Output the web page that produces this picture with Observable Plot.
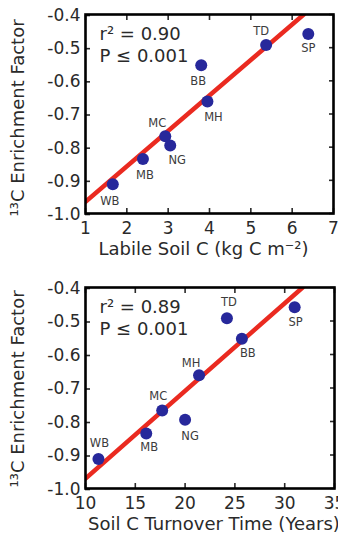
<!DOCTYPE html>
<html>
<head>
<meta charset="utf-8">
<script src="https://cdn.jsdelivr.net/npm/d3@7"></script>
<script src="https://cdn.jsdelivr.net/npm/@observablehq/plot@0.6"></script>
<style>
  html, body { margin: 0; padding: 0; background: white; }
  #chart svg { display: block; }
</style>
</head>
<body>
<div id="chart"></div>
<script>
// ---- data ----
const sites = ["WB", "MB", "MC", "NG", "BB", "MH", "TD", "SP"];
const enrichment = [-0.912, -0.836, -0.767, -0.795, -0.553, -0.662, -0.492, -0.459];
const labileC = [1.66, 2.39, 2.93, 3.05, 3.80, 3.95, 5.37, 6.39];
const turnover = [11.3, 16.1, 17.7, 20.0, 25.7, 21.4, 24.2, 31.0];
const fitLabileX = [1, 6.28];
const fitLabileY = [-0.965, -0.40];
const fitTurnX = [10, 31.8];
const fitTurnY = [-0.97, -0.40];
const yTicks = [-1.0, -0.9, -0.8, -0.7, -0.6, -0.5, -0.4];
const xTicksLabile = [1, 2, 3, 4, 5, 6, 7];
const xTicksTurn = [10, 15, 20, 25, 30, 35];
const statsLabile = ["r² = 0.90", "P ≤ 0.001"];
const statsTurn = ["r² = 0.89", "P ≤ 0.001"];
const yTitle = "¹³C Enrichment Factor";
const xTitleLabile = "Labile Soil C (kg C m⁻²)";
const xTitleTurn = "Soil C Turnover Time (Years)";

// ---- layout (label offsets in px) ----
const offLabile = {WB:[-3,17], MB:[2,16], MC:[-8,-13], NG:[7,15], BB:[-3,16], MH:[6,16], TD:[-5,-14], SP:[0,14]};
const offTurn = {WB:[1,-16], MB:[3,14], MC:[-4,-14], NG:[5,16], BB:[6,15], MH:[-8,-12], TD:[2,-16], SP:[1,15]};

const FONT = "'DejaVu Sans', sans-serif";
const INK = "#2a2a2a";

function panel({xs, xDomain, xTicks, fitX, fitY, stats, xTitle, titleDx, yTitleDy, offs, marginTop, marginBottom, marginRight}) {
  const idx = d3.range(sites.length);
  const fit = d3.range(fitX.length);
  return Plot.plot({
    width: 338,
    height: 267,
    marginLeft: 85,
    marginRight,
    marginTop,
    marginBottom,
    style: {fontFamily: FONT, color: INK, background: "white"},
    x: {domain: xDomain},
    y: {domain: [-1.0, -0.4]},
    marks: [
      Plot.line(fit, {x: i => fitX[i], y: i => fitY[i], stroke: "#ea2a20", strokeWidth: 4.5, clip: true}),
      Plot.dot(idx, {x: i => xs[i], y: i => enrichment[i], r: 6, fill: "#27289b"}),
      ...idx.map(i => Plot.text([i], {
        x: j => xs[j], y: j => enrichment[j], text: j => sites[j],
        dx: offs[sites[i]][0], dy: offs[sites[i]][1],
        fontSize: 11.5, fill: "#3c3c3c", fontFamily: FONT
      })),
      Plot.axisY(yTicks, {anchor: "left", tickSize: -5, tickPadding: 10, strokeWidth: 1.6,
        tickFormat: d => d.toFixed(1), fontSize: 17, fill: INK, dy: 1, label: null}),
      Plot.axisY(yTicks, {anchor: "right", tickSize: -5, strokeWidth: 1.6, tickFormat: () => "", label: null}),
      Plot.axisX(xTicks, {anchor: "bottom", tickSize: -5, tickPadding: 13, strokeWidth: 1.6,
        tickFormat: d => String(d), fontSize: 17, fill: INK, label: null}),
      Plot.axisX(xTicks, {anchor: "top", tickSize: -5, strokeWidth: 1.6, tickFormat: () => "", label: null}),
      Plot.frame({stroke: "#000", strokeWidth: 2.6}),
      Plot.text([stats.join("\n")], {frameAnchor: "top-left", dx: 14, dy: 11, lineHeight: 1.17,
        textAnchor: "start", lineAnchor: "top", fontSize: 18, fill: INK, fontFamily: FONT}),
      Plot.text([yTitle], {frameAnchor: "left", dx: -67, dy: yTitleDy, rotate: -90, textAnchor: "middle", lineAnchor: "middle",
        fontSize: 18, fill: INK, fontFamily: FONT}),
      Plot.text([xTitle], {frameAnchor: "bottom", dx: titleDx, dy: 36, textAnchor: "middle", lineAnchor: "middle",
        fontSize: 18, fill: INK, fontFamily: FONT})
    ]
  });
}

const chart = document.getElementById("chart");
chart.append(panel({
  xs: labileC, xDomain: [1, 7], xTicks: xTicksLabile, fitX: fitLabileX, fitY: fitLabileY,
  stats: statsLabile, xTitle: xTitleLabile, titleDx: -6, yTitleDy: 4, offs: offLabile,
  marginTop: 14, marginBottom: 54, marginRight: 5
}));
chart.append(panel({
  xs: turnover, xDomain: [10, 35], xTicks: xTicksTurn, fitX: fitTurnX, fitY: fitTurnY,
  stats: statsTurn, xTitle: xTitleTurn, titleDx: 4, yTitleDy: 1, offs: offTurn,
  marginTop: 20, marginBottom: 46, marginRight: 4
}));
</script>
</body>
</html>
